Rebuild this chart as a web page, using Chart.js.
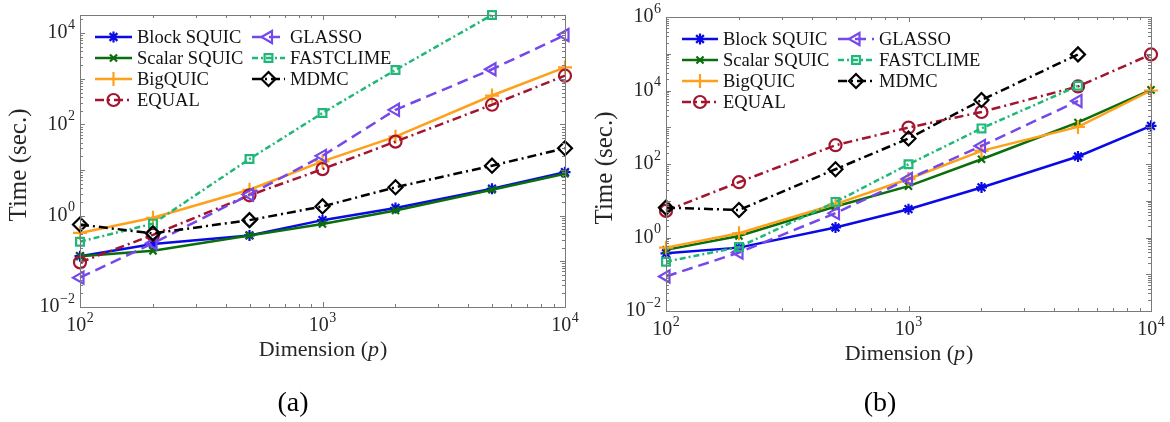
<!DOCTYPE html>
<html>
<head>
<meta charset="utf-8">
<script src="https://cdn.jsdelivr.net/npm/chart.js@4"></script>
<style>
  html, body { margin: 0; padding: 0; background: #fff; }
  #wrap { position: relative; width: 1170px; height: 422px; }
  canvas { position: absolute; top: 0; }
</style>
</head>
<body>
<div id="wrap">
  <canvas id="panelA" width="585" height="422" style="left:0"></canvas>
  <canvas id="panelB" width="585" height="422" style="left:585px"></canvas>
</div>
<script>
// ===== data =====
const dims = [100, 200, 500, 1000, 2000, 5000, 10000];
const names = ['Block SQUIC', 'Scalar SQUIC', 'BigQUIC', 'EQUAL', 'GLASSO', 'FASTCLIME', 'MDMC'];

// (a)
const blockA     = [0.13, 0.24, 0.37, 0.80, 1.48, 3.9, 9.0];
const scalarA    = [0.13, 0.17, 0.37, 0.66, 1.3, 3.7, 8.3];
const bigquicA   = [0.42, 0.90, 3.7, 15.5, 54, 430, 1780];
const equalA     = [0.095, 0.38, 2.8, 10.5, 42, 270, 1170];
const glassoA    = [0.044, 0.25, 2.9, 20.5, 209, 1620, 9100];
const fastclimeA = [0.27, 0.67, 17.5, 178, 1560, 25000];
const mdmcA      = [0.64, 0.41, 0.80, 1.6, 4.2, 12.5, 30];

// (b)
const blockB     = [0.37, 0.53, 1.87, 5.9, 23, 160, 1090];
const scalarB    = [0.46, 1.1, 7.0, 25, 135, 1350, 10400];
const bigquicB   = [0.53, 1.3, 8.1, 39, 228, 1020, 10000];
const equalB     = [5.3, 32, 325, 980, 2600, 12900, 96000];
const glassoB    = [0.087, 0.39, 4.6, 39, 310, 5200];
const fastclimeB = [0.22, 0.55, 9.3, 98, 930, 13400];
const mdmcB      = [6.5, 5.6, 72, 495, 5500, 96000];

// tick labels (powers of ten)
const xTickExp = [2, 3, 4];
const yTickExpA = [-2, 0, 2, 4];
const yTickExpB = [-2, 0, 2, 4, 6];

// ===== styles =====
const colors = ['#0a0ae6', '#0a6e0a', '#ffa01a', '#a3142f', '#7548ea', '#20b878', '#000000'];
const dashes = [[], [], [], [9, 4, 2, 4], [11, 6], [6, 3, 2, 3], [9, 4, 2, 4]];
const markers = ['star', 'crossRot', 'cross', 'circle', 'triangle', 'rect', 'rectRot'];
const markerSize = [5.5, 5, 7, 6, 7, 5.5, 7];
const markerRot = [0, 0, 0, 0, -90, 0, 0];
const serif = '"Liberation Serif", "DejaVu Serif", serif';

function buildDatasets(series) {
    return series.map((vals, i) => ({
        label: names[i],
        data: vals.map((v, k) => ({ x: dims[k], y: v })),
        borderColor: colors[i],
        borderWidth: 2.5,
        borderDash: dashes[i],
        pointStyle: markers[i],
        pointRadius: markerSize[i],
        pointRotation: markerRot[i],
        pointBorderWidth: 2.2,
        pointBorderColor: colors[i],
        pointBackgroundColor: 'rgba(0,0,0,0)',
        fill: false,
        tension: 0,
        clip: false,
        order: names.length - i
    }));
}

// "10" with a superscript exponent
function drawPow(ctx, exp, x, y, align) {
    const ex = exp < 0 ? '\u2212' + Math.abs(exp) : String(exp);
    ctx.font = '20px ' + serif;
    const wb = ctx.measureText('10').width;
    ctx.font = '14px ' + serif;
    const we = ctx.measureText(ex).width;
    const total = wb + we + 0.5;
    const left = align === 'right' ? x - total : x - total / 2;
    ctx.textAlign = 'left';
    ctx.textBaseline = 'middle';
    ctx.font = '20px ' + serif;
    ctx.fillText('10', left, y);
    ctx.font = '14px ' + serif;
    ctx.fillText(ex, left + wb + 0.5, y - 8);
}

function decoPlugin(cfg) {
    return {
        id: 'deco',
        afterDraw(chart) {
            const ctx = chart.ctx;
            const a = chart.chartArea;
            const xs = chart.scales.x, ys = chart.scales.y;
            ctx.save();
            ctx.setLineDash([]);
            ctx.strokeStyle = '#7a7a7a';
            ctx.lineWidth = 1;
            ctx.strokeRect(Math.round(a.left) + 0.5, Math.round(a.top) + 0.5,
                Math.round(a.right - a.left), Math.round(a.bottom - a.top));

            // ticks, inside, on all four sides
            ctx.beginPath();
            for (let e = 2; e <= 4; e++) {
                for (let m = 1; m <= 9; m++) {
                    const v = m * Math.pow(10, e);
                    if (v > 10000) break;
                    const px = Math.round(xs.getPixelForValue(v)) + 0.5;
                    const len = m === 1 ? 5 : 3;
                    ctx.moveTo(px, a.bottom); ctx.lineTo(px, a.bottom - len);
                    ctx.moveTo(px, a.top); ctx.lineTo(px, a.top + len);
                }
            }
            for (let e = cfg.yExp[0]; e <= cfg.yExp[cfg.yExp.length - 1] + 1; e++) {
                for (let m = 1; m <= 9; m++) {
                    const v = m * Math.pow(10, e);
                    if (v > ys.max * 1.0001) break;
                    const py = Math.round(ys.getPixelForValue(v)) + 0.5;
                    const len = m === 1 ? 5 : 3;
                    ctx.moveTo(a.left, py); ctx.lineTo(a.left + len, py);
                    ctx.moveTo(a.right, py); ctx.lineTo(a.right - len, py);
                }
            }
            ctx.stroke();

            // tick labels
            ctx.fillStyle = '#262626';
            xTickExp.forEach(e => drawPow(ctx, e, xs.getPixelForValue(Math.pow(10, e)), a.bottom + 19, 'center'));
            cfg.yExp.forEach(e => drawPow(ctx, e, a.left - 5, ys.getPixelForValue(Math.pow(10, e)), 'right'));

            // axis titles
            ctx.fillStyle = '#262626';
            ctx.textBaseline = 'middle';
            ctx.font = '22px ' + serif;
            const t1 = 'Dimension (', t2 = 'p', t3 = ')';
            const w1 = ctx.measureText(t1).width, w3 = ctx.measureText(t3).width;
            ctx.font = 'italic 22px ' + serif;
            const w2 = ctx.measureText(t2).width;
            let tx = (a.left + a.right) / 2 - (w1 + w2 + w3) / 2;
            const ty = a.bottom + 43;
            ctx.textAlign = 'left';
            ctx.font = '22px ' + serif;
            ctx.fillText(t1, tx, ty);
            ctx.font = 'italic 22px ' + serif;
            ctx.fillText(t2, tx + w1, ty);
            ctx.font = '22px ' + serif;
            ctx.fillText(t3, tx + w1 + w2 + 1, ty);

            ctx.save();
            ctx.translate(cfg.yTitleX, (a.top + a.bottom) / 2 + 4);
            ctx.rotate(-Math.PI / 2);
            ctx.textAlign = 'center';
            ctx.font = '25px ' + serif;
            ctx.fillText('Time (sec.)', 0, 0);
            ctx.restore();

            // caption
            ctx.fillStyle = '#000';
            ctx.textAlign = 'center';
            ctx.font = '28px ' + serif;
            ctx.fillText(cfg.caption, cfg.captionX, 404);

            // legend, two columns inside the axes
            chart.data.datasets.forEach((ds, i) => {
                const col = i < 4 ? 0 : 1;
                const row = i < 4 ? i : i - 4;
                const y = cfg.legY + row * 21;
                const x0 = cfg.legX[col], x1 = cfg.legX[col] + cfg.legLen[col];
                ctx.save();
                ctx.strokeStyle = ds.borderColor;
                ctx.lineWidth = 2.5;
                ctx.setLineDash(ds.borderDash);
                ctx.beginPath();
                ctx.moveTo(x0, y); ctx.lineTo(x1, y);
                ctx.stroke();
                ctx.setLineDash([]);
                ctx.lineWidth = 2.2;
                ctx.fillStyle = 'rgba(0,0,0,0)';
                Chart.helpers.drawPoint(ctx, {
                    pointStyle: ds.pointStyle, radius: ds.pointRadius,
                    rotation: ds.pointRotation, borderWidth: 2.2
                }, (x0 + x1) / 2, y);
                ctx.restore();
                ctx.fillStyle = '#111';
                ctx.textAlign = 'left';
                ctx.textBaseline = 'middle';
                ctx.font = '18.5px ' + serif;
                ctx.fillText(ds.label, x1 + 5, y + 1);
            });
            ctx.restore();
        }
    };
}

function makeChart(id, series, ymin, ymax, padding, cfg) {
    return new Chart(document.getElementById(id).getContext('2d'), {
        type: 'line',
        data: { datasets: buildDatasets(series) },
        options: {
            responsive: false,
            animation: false,
            layout: { padding: padding },
            plugins: { legend: { display: false }, tooltip: { enabled: false } },
            scales: {
                x: { type: 'logarithmic', min: 100, max: 10000, display: false },
                y: { type: 'logarithmic', min: ymin, max: ymax, display: false }
            }
        },
        plugins: [decoPlugin(cfg)]
    });
}

makeChart('panelA',
    [blockA, scalarA, bigquicA, equalA, glassoA, fastclimeA, mdmcA],
    0.01, 25000,
    { left: 80, top: 15, right: 20, bottom: 115 },
    { yExp: yTickExpA, yTitleX: 19, caption: '(a)', captionX: 293,
      legY: 37, legX: [95, 252], legLen: [37, 33] });

makeChart('panelB',
    [blockB, scalarB, bigquicB, equalB, glassoB, fastclimeB, mdmcB],
    0.01, 1000000,
    { left: 81, top: 17, right: 19, bottom: 111 },
    { yExp: yTickExpB, yTitleX: 20, caption: '(b)', captionX: 295,
      legY: 39, legX: [97, 253], legLen: [36, 36] });
</script>
</body>
</html>
